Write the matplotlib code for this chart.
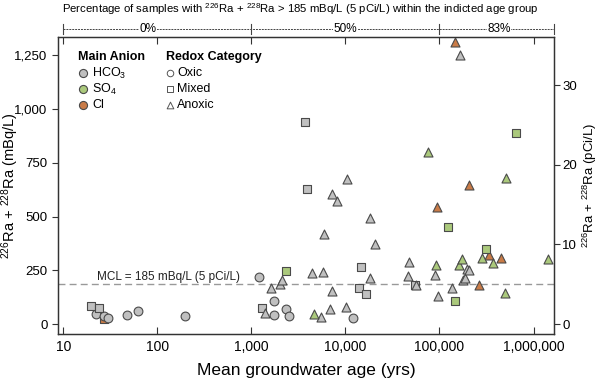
import numpy as np
import matplotlib.pyplot as plt
from matplotlib.ticker import FuncFormatter, FixedLocator, NullLocator
import matplotlib.transforms as mtransforms

plt.rcParams['font.family'] = ['Liberation Sans', 'DejaVu Sans']
plt.rcParams['mathtext.fontset'] = 'custom'
plt.rcParams['mathtext.rm'] = 'Liberation Sans'
plt.rcParams['mathtext.it'] = 'Liberation Sans:italic'
plt.rcParams['mathtext.bf'] = 'Liberation Sans:bold'

# Mean groundwater age (yrs), 226Ra + 228Ra (mBq/L), main anion, redox category
age = [22.3, 27.2, 30.2, 48.2, 63, 198, 1217, 1729, 1729, 2322, 2515, 12100,
       19.8, 23.9, 1310, 3730, 3920, 14500, 13800, 16500, 54400,
       27, 2345, 124000, 147500, 315000, 659000,
       1409, 1622, 2000, 2123, 4430, 5750, 5470, 6820, 7160, 5990, 10100, 18200,
       20400, 10400, 7160, 8180, 18060, 47300, 46200, 56000, 88900, 95700,
       136000, 176600, 187000, 198000, 205000, 164000,
       4690, 76200, 91800, 161000, 175000, 286000, 368000, 511000, 499000, 1410000,
       146000, 94900, 208000, 261000, 336000, 452000]
radium = [45, 37, 29, 43, 60, 37, 217, 108, 40, 71, 37, 29,
          85, 73, 76, 937, 629, 266, 169, 138, 180,
          22, 246, 449, 108, 350, 888,
          53, 170, 186, 204, 238, 243, 34, 68, 155, 421, 79, 214,
          372, 672, 605, 570, 494, 288, 223, 180, 228, 130,
          170, 206, 214, 258, 252, 1251,
          45, 798, 273, 273, 302, 306, 285, 677, 144, 302,
          1309, 542, 645, 184, 321, 306]
anion = (['HCO3'] * 12 + ['HCO3'] * 9 + ['Cl'] + ['SO4'] * 5 +
         ['HCO3'] * 28 + ['SO4'] * 10 + ['Cl'] * 6)
redox = ['Oxic'] * 12 + ['Mixed'] * 15 + ['Anoxic'] * 44

anion_colors = {'HCO3': '#c0c0c0', 'SO4': '#abc97c', 'Cl': '#c97b47'}
anion_labels = {'HCO3': 'HCO$_3$', 'SO4': 'SO$_4$', 'Cl': 'Cl'}
redox_markers = {'Oxic': 'o', 'Mixed': 's', 'Anoxic': '^'}
redox_sizes = {'Oxic': 40, 'Mixed': 36, 'Anoxic': 42}

mcl = 185
bracket_edges = [10, 1000, 100000, 1.65e6]
bracket_label_x = [80, 10000, 430000]
bracket_labels = ['0%', '50%', '83%']
xticks = [10, 100, 1000, 10000, 100000, 1000000]

fig = plt.figure(figsize=(6, 3.84), dpi=100)
ax = fig.add_axes([0.0967, 0.1302, 0.8266, 0.7734])

edge = '#4a4a4a'
for a_key in ['Cl', 'HCO3', 'SO4']:
    for r_key in ['Oxic', 'Mixed', 'Anoxic']:
        xs = [x for x, an, rd in zip(age, anion, redox) if an == a_key and rd == r_key]
        ys = [y for y, an, rd in zip(radium, anion, redox) if an == a_key and rd == r_key]
        if xs:
            ax.scatter(xs, ys, s=redox_sizes[r_key], marker=redox_markers[r_key],
                       facecolor=anion_colors[a_key], edgecolor=edge, linewidth=0.8, zorder=3)

ax.axhline(mcl, color='#999999', linestyle=(0, (5, 3)), linewidth=1.0, zorder=1)
ax.text(23, mcl + 6, 'MCL = 185 mBq/L (5 pCi/L)', fontsize=8.5, color='#222222',
        va='bottom', ha='left')

ax.set_xscale('log')
ax.set_xlim(8.8, 1.65e6)
ax.set_ylim(-46, 1334)
ax.xaxis.set_major_locator(FixedLocator(xticks))
ax.xaxis.set_minor_locator(NullLocator())
ax.xaxis.set_major_formatter(FuncFormatter(lambda v, p: f'{int(round(v)):,}'))
ax.set_yticks([0, 250, 500, 750, 1000, 1250])
ax.yaxis.set_major_formatter(FuncFormatter(lambda v, p: f'{int(v):,}'))
ax.tick_params(axis='x', direction='in', top=True, length=5, labelsize=10, pad=4,
               color='#333333')
ax.tick_params(axis='y', direction='out', length=4, labelsize=9.5, color='#333333')
for s in ax.spines.values():
    s.set_color('#333333')
    s.set_linewidth(0.9)

ax.set_xlabel('Mean groundwater age (yrs)', fontsize=12.5, labelpad=7)
ax.set_ylabel('$^{226}$Ra + $^{228}$Ra (mBq/L)', fontsize=10.5, va='center')
ax.yaxis.set_label_coords((10 - 58) / 496, 0.5)

ax2 = ax.twinx()
ax2.set_ylim(-46 / 37, 1334 / 37)
ax2.set_yticks([0, 10, 20, 30])
ax2.tick_params(axis='y', direction='out', length=4, labelsize=9.5, pad=2, color='#333333')
for s in ax2.spines.values():
    s.set_color('#333333')
    s.set_linewidth(0.9)
ax2.set_ylabel('$^{226}$Ra + $^{228}$Ra (pCi/L)', fontsize=9.5, va='center')
ax2.yaxis.set_label_coords((590 - 58) / 496, 0.5)

# legend, drawn by hand
def axpos(px, py):
    return (px - 58) / 496, (334 - py) / 297

tx, ty = axpos(78, 57)
ax.text(tx, ty, 'Main Anion', transform=ax.transAxes, fontsize=9, fontweight='bold',
        va='center', ha='left')
for i, a_key in enumerate(['HCO3', 'SO4', 'Cl']):
    mx, my = axpos(83, 73 + 16 * i)
    ax.scatter([mx], [my], s=34, marker='o', facecolor=anion_colors[a_key], edgecolor=edge,
               linewidth=0.8, transform=ax.transAxes, clip_on=False, zorder=4)
    lx, ly = axpos(92, 73 + 16 * i)
    ax.text(lx, ly, anion_labels[a_key], transform=ax.transAxes, fontsize=9,
            va='center', ha='left')

tx, ty = axpos(166, 57)
ax.text(tx, ty, 'Redox Category', transform=ax.transAxes, fontsize=9, fontweight='bold',
        va='center', ha='left')
for i, r_key in enumerate(['Oxic', 'Mixed', 'Anoxic']):
    mx, my = axpos(170, 73 + 16 * i)
    ax.scatter([mx], [my], s=redox_sizes[r_key] * 0.55, marker=redox_markers[r_key],
               facecolor='white', edgecolor='#555555', linewidth=0.7,
               transform=ax.transAxes, clip_on=False, zorder=4)
    lx, ly = axpos(177, 73 + 16 * i)
    ax.text(lx, ly, r_key, transform=ax.transAxes, fontsize=9, va='center', ha='left')

# top bracket with percentages
trans = mtransforms.blended_transform_factory(ax.transData, ax.transAxes)
by = (334 - 29) / 297
ax.plot([bracket_edges[0], bracket_edges[-1]], [by, by], transform=trans, clip_on=False,
        color='#444444', linewidth=0.7, linestyle=(0, (2, 1)))
for xe in bracket_edges:
    ax.plot([xe, xe], [by - 0.016, by + 0.016], transform=trans, clip_on=False,
            color='#444444', linewidth=0.8)
for xm, lab in zip(bracket_label_x, bracket_labels):
    ax.text(xm, by, lab, transform=trans, fontsize=8.5, ha='center', va='center',
            bbox=dict(facecolor='white', edgecolor='none', pad=0.5))

fig.text(0.5, 1 - 9 / 384,
         'Percentage of samples with $^{226}$Ra + $^{228}$Ra > 185 mBq/L (5 pCi/L) within the indicted age group',
         fontsize=8.2, ha='center', va='center')

fig.savefig('out.png', dpi=100)
